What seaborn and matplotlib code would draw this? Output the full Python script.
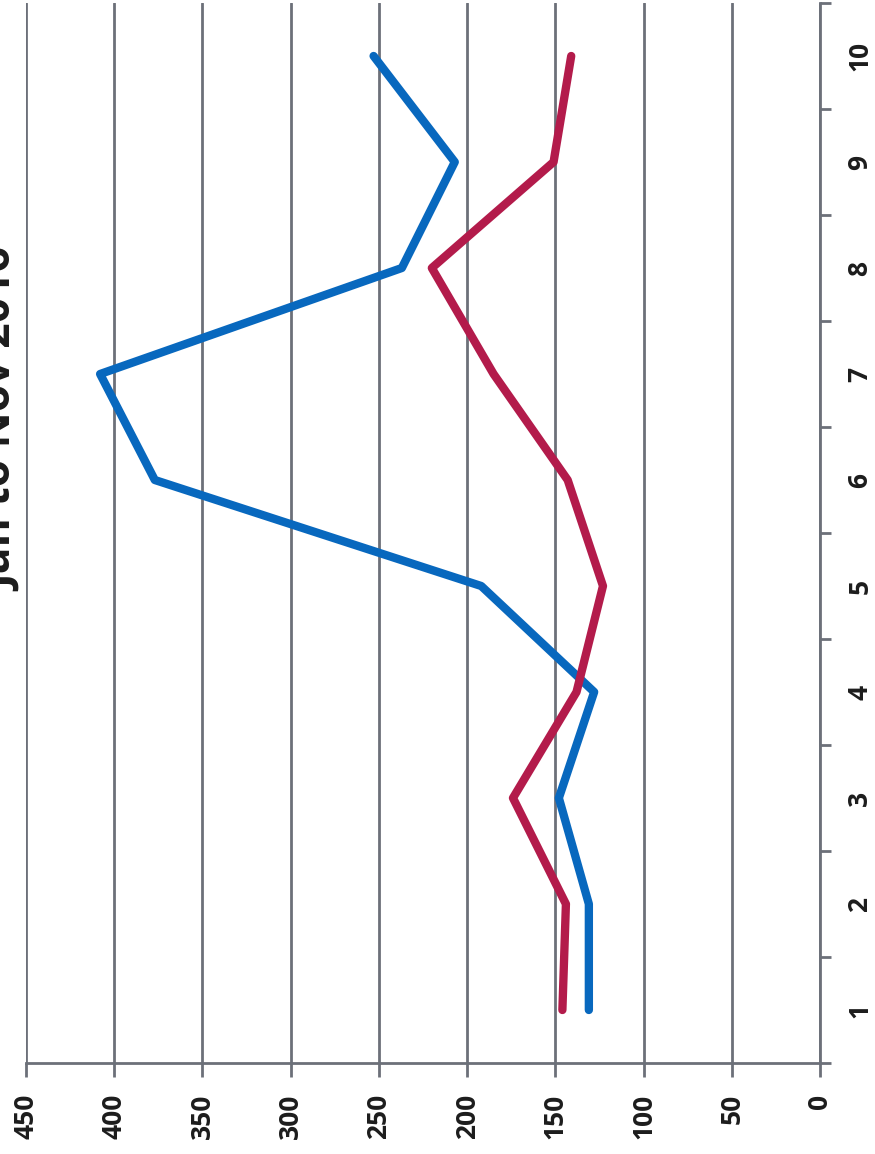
import matplotlib
matplotlib.use("Agg")
import matplotlib.pyplot as plt
import pandas as pd
import seaborn as sns
from matplotlib.ticker import FixedLocator

# Monthly counts for two series, periods 1..10
periods = [1, 2, 3, 4, 5, 6, 7, 8, 9, 10]
series_blue = [131, 131, 148, 128, 192, 377, 408, 237, 207, 253]
series_red = [146, 144, 174, 138, 123, 143, 185, 220, 151, 141]
value_ticks = [0, 50, 100, 150, 200, 250, 300, 350, 400, 450]
title_text = "Jan to Nov 2016"

BLUE = "#0868BE"
RED = "#B31B4B"
GRID = "#6c7079"

sns.set_theme(style="white")
plt.rcParams["font.family"] = ["Open Sans", "DejaVu Sans"]

df = pd.DataFrame({
    "period": periods * 2,
    "value": series_blue + series_red,
    "series": ["blue"] * len(periods) + ["red"] * len(periods),
})

W, H = 875, 1154
fig = plt.figure(figsize=(W / 100, H / 100), dpi=100)
left, right, top, bottom = 26, 820, 3, 1063
ax = fig.add_axes([left / W, 1 - bottom / H, (right - left) / W, (bottom - top) / H])

sns.lineplot(data=df, x="value", y="period", hue="series", orient="y",
             palette=[BLUE, RED], linewidth=6, legend=False,
             estimator=None, ax=ax, zorder=3)

# Value axis runs right-to-left along the bottom
ax.set_xlim(450, 0)
ax.xaxis.set_major_locator(FixedLocator(value_ticks))
ax.grid(axis="x", color=GRID, linewidth=2, zorder=1)
ax.grid(axis="y", visible=False)

# Category axis on the right, ticks between categories
ax.set_ylim(0.5, 10.5)
ax.yaxis.tick_right()
ax.set_yticks(periods)
ax.set_yticks([p - 0.5 for p in periods] + [10.5], minor=True)
ax.tick_params(axis="y", which="major", length=0, pad=19, labelsize=19,
               labelrotation=90)
ax.tick_params(axis="y", which="minor", length=8, width=2, color=GRID,
               right=True, left=False)
ax.tick_params(axis="x", which="major", length=10, width=2, color=GRID,
               pad=12, labelsize=19, labelrotation=90, bottom=True)
for lab in ax.get_yticklabels():
    lab.set_verticalalignment("center")
for lab in ax.get_xticklabels() + ax.get_yticklabels():
    lab.set_fontweight("bold")
    lab.set_color("#1c1c1c")

for side in ("top", "left"):
    ax.spines[side].set_visible(False)
for side in ("bottom", "right"):
    ax.spines[side].set_color(GRID)
    ax.spines[side].set_linewidth(2)

ax.set_xlabel("")
ax.set_ylabel("")

fig.text(24 / W, 1 - 420 / H, title_text, rotation=90, ha="right", va="center",
         fontsize=32, fontweight="bold", color="#1c1c1c")

fig.savefig("out.png", dpi=100)
